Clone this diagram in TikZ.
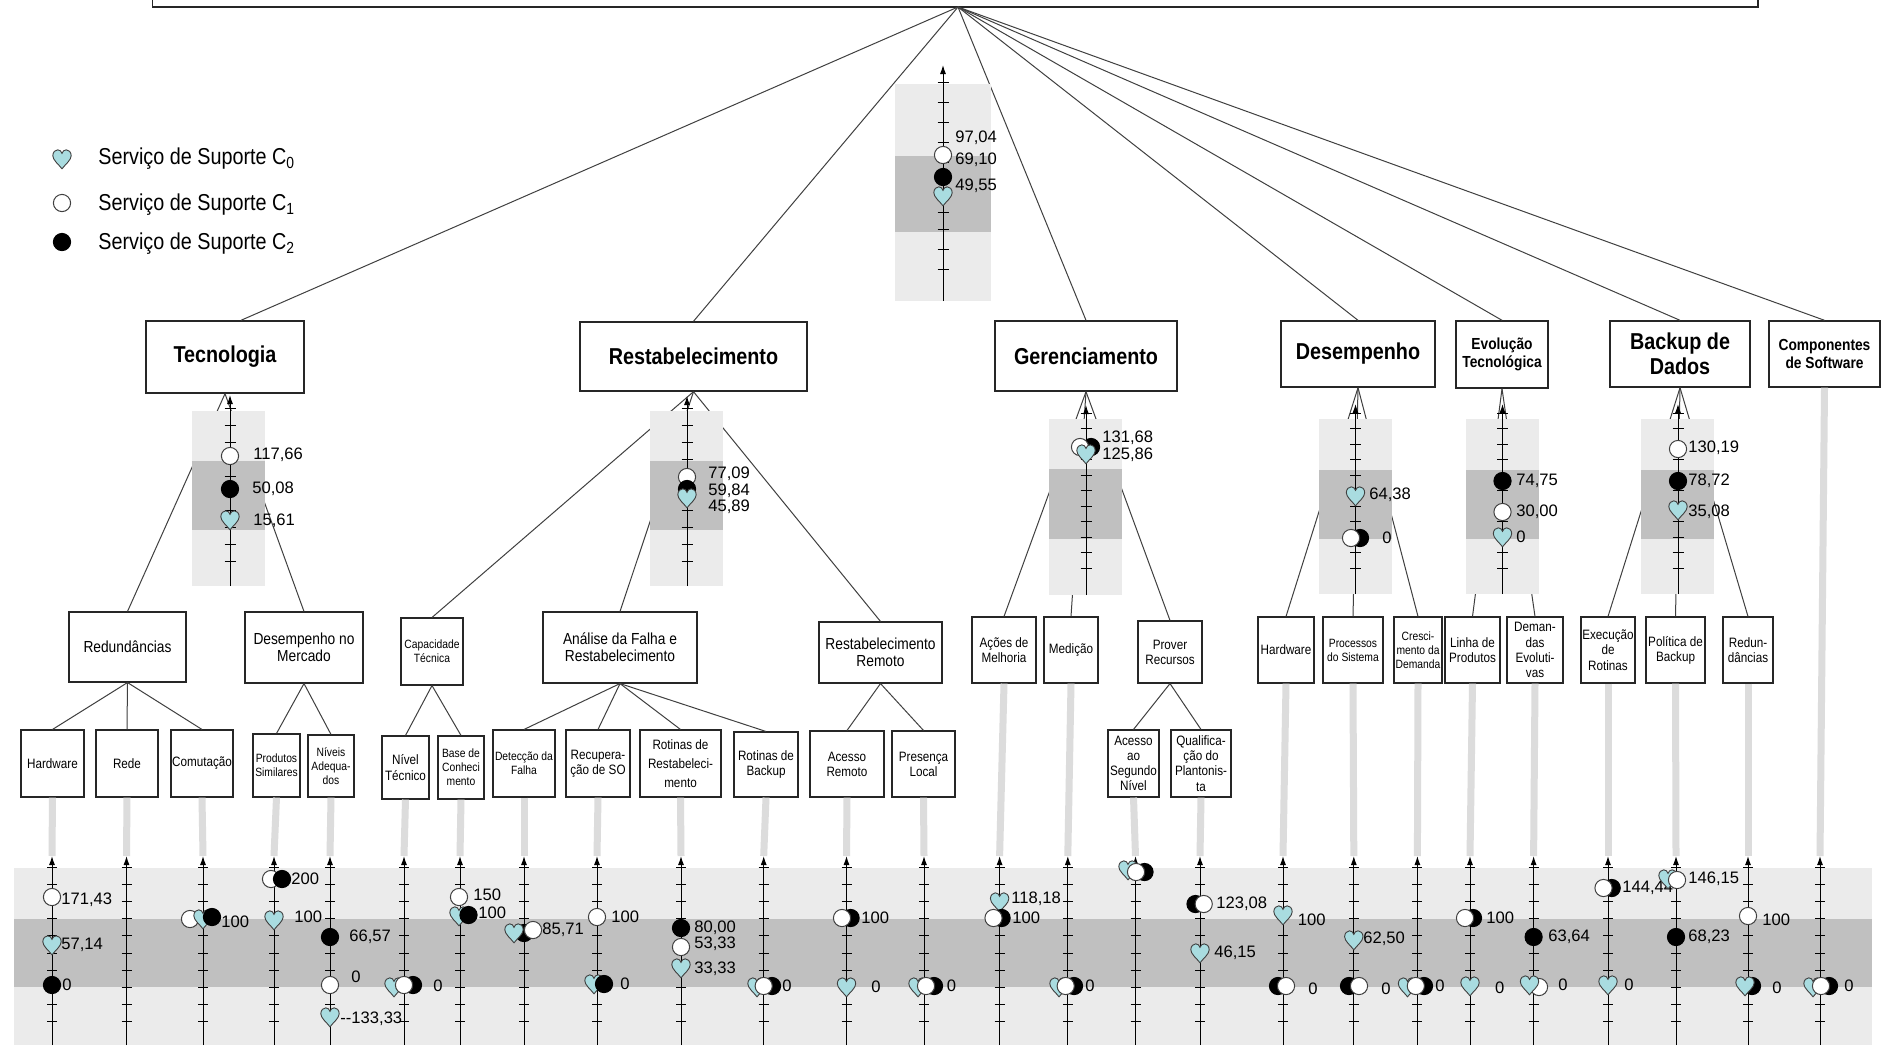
\documentclass[tikz,border=0pt]{standalone}
\usepackage{fontspec}
\setmainfont{Liberation Sans}
\newfontfamily\condf[FakeStretch=0.86]{Liberation Sans}
\usetikzlibrary{arrows.meta}
\definecolor{lgray}{HTML}{EBEBEB}
\definecolor{dgray}{HTML}{C0C0C0}
\definecolor{lgline}{HTML}{DCDCDC}
\definecolor{heartc}{HTML}{A9DCE0}
\definecolor{edgec}{HTML}{404040}
\newcommand\tbox[7]{\node[#6, minimum width={(#4-#2)*0.5pt}, minimum height={(#5-#3)*0.5pt}] (#1) at ({(#2+#4)/2},{(#3+#5)/2}) {#7};}
\newcommand\Hm[2]{\pic at (#1,#2) {heart};}
\newcommand\Wm[2]{\draw[wst] (#1,#2) circle[radius=4.3pt];}
\newcommand\Bm[2]{\draw[bst] (#1,#2) circle[radius=4.3pt];}
\newcounter{lbc}
\newcommand\Lb[3]{\stepcounter{lbc}\node[lab] (lb\arabic{lbc}) at (#1,#2) {#3};}
\newcommand\drawscale[9]{%
  \fill[lgray] (#4,#6) rectangle (#5,#3);
  \fill[dgray] (#4,#7) rectangle (#5,#8);
  \draw[axis] (#1,#3) -- (#1,#2);
  \foreach \t in {#9} \draw[tick] ({#1-5.5},\t) -- ({#1+5.5},\t);
}
\begin{document}
\begin{tikzpicture}[x=0.5pt,y=-0.5pt,
  boxb/.style={draw=black!85, fill=white, line width=0.55pt, inner sep=0.5pt, align=center},
  lvltwo/.style={boxb, line width=0.7pt, font=\condf\bfseries\fontsize{11.5}{12.5}\selectfont},
  lvltwos/.style={boxb, line width=0.7pt, font=\condf\bfseries\fontsize{8}{9}\selectfont},
  lvlthree/.style={boxb, font=\condf\fontsize{8}{8.6}\selectfont},
  leaf/.style={boxb, font=\condf\fontsize{6.8}{7.6}\selectfont},
  leafn/.style={boxb, font=\condf\fontsize{6}{7}\selectfont},
  tree/.style={draw=edgec, line width=0.5pt},
  axis/.style={draw=black, line width=0.5pt, -{Latex[length=4.5pt,width=3pt]}},
  tick/.style={draw=black, line width=0.5pt},
  gline/.style={draw=lgline, line width=3.5pt},
  lab/.style={anchor=west, inner sep=0pt, font=\fontsize{8.3}{9}\selectfont},
  legtxt/.style={anchor=west, inner sep=0pt, font=\condf\fontsize{11.5}{12}\selectfont},
  wst/.style={fill=white, draw=edgec, line width=0.5pt},
  bst/.style={fill=black, draw=black, line width=0.5pt},
  hst/.style={fill=heartc, draw=edgec, line width=0.45pt},
  pics/heart/.style={code={\draw[hst] (0,9.8) .. controls (-3.3,5.4) and (-9.2,1.1) .. (-9.2,-3.3) .. controls (-9.2,-7) and (-6.5,-9.2) .. (-4.3,-9.2) .. controls (-2.2,-9.2) and (-0.5,-7.6) .. (0,-5.6) .. controls (0.5,-7.6) and (2.2,-9.2) .. (4.3,-9.2) .. controls (6.5,-9.2) and (9.2,-7) .. (9.2,-3.3) .. controls (9.2,1.1) and (3.3,5.4) .. (0,9.8) -- cycle;}}
]
\useasboundingbox (0,0) rectangle (1884,1045);
\clip (0,0) rectangle (1884,1045);
\fill[white] (0,0) rectangle (1884,1045);
% bottom band
\fill[lgray] (13.5,868) rectangle (1872,1045);
\fill[dgray] (13.5,919) rectangle (1872,987);
% top box
\node[draw=black!85, line width=0.6pt, minimum width={(1758-152.6)*0.5pt}, minimum height=20pt, inner sep=0pt] (top) at (955.3,-13) {};
\coordinate (root) at (958,7);
% level 2
\tbox{tec}{146}{321}{304}{393}{lvltwo}{Tecnologia}
\tbox{res}{580}{322}{807}{391}{lvltwo}{Restabelecimento}
\tbox{ger}{995}{321}{1177}{391}{lvltwo}{Gerenciamento}
\tbox{des}{1281}{321}{1435}{387}{lvltwo}{Desempenho}
\tbox{evo}{1456}{321}{1548}{388}{lvltwos}{Evolução\\Tecnológica}
\tbox{bak}{1610}{321}{1750}{387}{lvltwo}{Backup de\\Dados}
\tbox{com}{1769}{321}{1880}{387}{lvltwos}{Componentes\\de Software}
% level 3
\tbox{red}{69}{612}{186}{682}{lvlthree}{Redundâncias}
\tbox{dme}{245}{612}{363}{683}{lvlthree}{Desempenho no\\Mercado}
\tbox{cap}{401}{618}{463}{685}{leafn}{Capacidade\\Técnica}
\tbox{ana}{543}{612}{697}{683}{lvlthree}{Análise da Falha e\\Restabelecimento}
\tbox{rre}{819}{622}{942}{683}{lvlthree}{Restabelecimento\\Remoto}
\tbox{aco}{972}{617}{1036}{683}{leaf}{Ações de\\Melhoria}
\tbox{med}{1044}{617}{1098}{683}{leaf}{Medição}
\tbox{pro}{1138}{621}{1202}{683}{leaf}{Prover\\Recursos}
\tbox{hw2}{1258}{617}{1314}{683}{leaf}{Hardware}
\tbox{prc}{1323}{617}{1383}{683}{leafn}{Processos\\do Sistema}
\tbox{cre}{1394}{617}{1442}{683}{leafn}{Cresci-\\mento da\\Demanda}
\tbox{lin}{1445}{617}{1500}{683}{leaf}{Linha de\\Produtos}
\tbox{dem}{1507}{617}{1563}{683}{leaf}{Deman-\\das\\Evoluti-\\vas}
\tbox{exe}{1581}{617}{1635}{683}{leaf}{Execução\\de\\Rotinas}
\tbox{pol}{1646}{617}{1705}{683}{leaf}{Política de\\Backup}
\tbox{re2}{1723}{617}{1773}{683}{leaf}{Redun-\\dâncias}
% level 4
\tbox{hw}{21}{730}{84}{797}{leaf}{Hardware}
\tbox{rede}{96}{730}{158}{797}{leaf}{Rede}
\tbox{comu}{171}{730}{233}{797}{leaf}{Comutação}
\tbox{psim}{253}{734}{300}{797}{leafn}{Produtos\\Similares}
\tbox{niv}{308}{735}{354}{797}{leafn}{Níveis\\Adequa-\\dos}
\tbox{ntec}{382}{736}{429}{799}{leaf}{Nível\\Técnico}
\tbox{base}{438}{736}{484}{799}{leafn}{Base de\\Conheci\\mento}
\tbox{det}{493}{730}{555}{797}{leafn}{Detecção da\\Falha}
\tbox{rec}{566}{730}{630}{797}{leaf}{Recupera-\\ção de SO}
\tbox{rrt}{640}{730}{721}{797}{leaf, font=\condf\fontsize{6.8}{9.5}\selectfont}{Rotinas de\\Restabeleci-\\mento}
\tbox{rbk}{734}{732}{798}{797}{leaf}{Rotinas de\\Backup}
\tbox{arm}{810}{731}{884}{797}{leaf}{Acesso\\Remoto}
\tbox{plo}{892}{731}{955}{797}{leaf}{Presença\\Local}
\tbox{aseg}{1108}{730}{1159}{797}{leaf}{Acesso\\ao\\Segundo\\Nível}
\tbox{qual}{1171}{730}{1231}{797}{leaf}{Qualifica-\\ção do\\Plantonis-\\ta}
% tree lines
\draw[tree] (root) -- ([xshift=8pt]tec.north);
\foreach \n in {res,ger,des,evo,bak,com} \draw[tree] (root) -- (\n.north);
\foreach \n in {red,dme} \draw[tree] (tec.south) -- (\n.north);
\foreach \n in {cap,ana,rre} \draw[tree] (res.south) -- (\n.north);
\foreach \n in {aco,med,pro} \draw[tree] (ger.south) -- (\n.north);
\foreach \n in {hw2,prc,cre} \draw[tree] (des.south) -- (\n.north);
\foreach \n in {lin,dem} \draw[tree] (evo.south) -- (\n.north);
\foreach \n in {exe,pol,re2} \draw[tree] (bak.south) -- (\n.north);
\foreach \n in {hw,rede,comu} \draw[tree] (red.south) -- (\n.north);
\foreach \n in {psim,niv} \draw[tree] (dme.south) -- (\n.north);
\foreach \n in {ntec,base} \draw[tree] (cap.south) -- (\n.north);
\foreach \n in {det,rec,rrt,rbk} \draw[tree] (ana.south) -- (\n.north);
\foreach \n in {arm,plo} \draw[tree] (rre.south) -- (\n.north);
\foreach \n in {aseg,qual} \draw[tree] (pro.south) -- (\n.north);
% scales
\drawscale{943}{65}{301}{895}{991}{84}{156}{232}{82,102,122,142,162,182,212,229,249,269}
\drawscale{230}{395}{586}{192}{265}{411}{461}{530}{408,425,...,561}
\drawscale{687}{396}{586}{650}{723}{411}{461}{530}{408,425,...,561}
\drawscale{1086}{405}{595}{1049}{1122}{419}{469}{539}{413,428.5,...,569}
\drawscale{1355.5}{404}{594}{1319}{1392}{419}{470}{539}{413,428.5,...,569}
\drawscale{1502.5}{404}{594}{1466}{1538.5}{419}{470}{539}{413,428.5,...,569}
\drawscale{1678}{404}{594}{1640.6}{1714}{419}{470}{539}{413,428.5,...,569}
% bottom axes
\foreach \nm/\xx in {a1/52,a2/126.5,a3/203,a4/274,a5/330,a6/404,a7/460,a8/524,a9/597,a10/681,a11/763.7,a12/846.5,a13/924,a14/999.6,a15/1067.8,a16/1135.5,a17/1200,a18/1283,a19/1353.8,a20/1417.4,a21/1470,a22/1533.6,a23/1608,a24/1676,a25/1748,a26/1820}{
  \coordinate (\nm) at (\xx,856);
  \draw[axis] (\xx,1045) -- (\nm);
  \foreach \k in {0,...,9} \draw[tick] ({\xx-5},{867+17.2*\k}) -- ({\xx+5},{867+17.2*\k});
}
\foreach \lf/\ax in {hw/a1,rede/a2,comu/a3,psim/a4,niv/a5,ntec/a6,base/a7,det/a8,rec/a9,rrt/a10,rbk/a11,arm/a12,plo/a13,aco/a14,med/a15,aseg/a16,qual/a17,hw2/a18,prc/a19,cre/a20,lin/a21,dem/a22,exe/a23,pol/a24,re2/a25,com/a26}
  \draw[gline] (\lf.south) -- (\ax);
% level-2 markers
\Wm{943}{155}\Bm{943}{177}\Hm{943}{196}
\Lb{955}{138}{97,04}\Lb{955}{160}{69,10}\Lb{955}{186}{49,55}
\Wm{230}{456}\Bm{230}{489}\Hm{230}{520}
\Lb{253}{455}{117,66}\Lb{252}{489}{50,08}\Lb{253}{521}{15,61}
\Wm{687}{477}\Bm{687}{489}\Hm{687}{498}
\Lb{708}{474}{77,09}\Lb{708}{491}{59,84}\Lb{708}{507}{45,89}
\Bm{1091}{447}\Wm{1080}{447}\Hm{1086}{454}
\Lb{1102}{438}{131,68}\Lb{1102}{455}{125,86}
\Hm{1355.5}{496}\Lb{1369}{495}{64,38}\Bm{1360}{538}\Wm{1351}{538}\Lb{1382}{538}{0}
\Bm{1502.5}{481}\Lb{1516}{481}{74,75}\Wm{1502.5}{512}\Lb{1516}{512}{30,00}\Hm{1502.5}{537}\Lb{1516}{537}{0}
\Wm{1678}{449}\Lb{1688}{448}{130,19}\Bm{1678}{481}\Lb{1688}{481}{78,72}\Hm{1678}{510}\Lb{1688}{512}{35,08}
% bottom markers
\Wm{52}{897}\Hm{52}{945}\Bm{52}{985}
\Lb{61}{900}{171,43}\Lb{61}{945}{57,14}\Lb{62}{985}{0}
\Wm{190}{919}\Hm{203}{919}\Bm{212}{917}\Lb{221}{922}{100}
\Wm{271}{879}\Bm{282}{879}\Lb{291}{879}{200}\Hm{274}{920}\Lb{294}{917}{100}
\Bm{330}{937}\Lb{349}{937}{66,57}\Wm{330}{985}\Lb{351}{977}{0}\Hm{330}{1017}\Lb{340}{1019}{-{}-133,33}
\Hm{394}{987}\Bm{413}{985}\Wm{404}{985}\Lb{433}{986}{0}
\Wm{459}{897}\Lb{473}{895}{150}\Hm{459}{916}\Bm{468.5}{915}\Lb{478}{913}{100}
\Bm{524}{933}\Hm{514}{933}\Wm{533}{930}\Lb{542}{930}{85,71}
\Wm{597}{917}\Lb{611}{917}{100}\Hm{594}{984}\Bm{604}{984}\Lb{620}{984}{0}
\Bm{681}{928}\Lb{694}{928}{80,00}\Wm{681}{947}\Lb{694}{944}{53,33}\Hm{681}{968}\Lb{694}{969}{33,33}
\Hm{757}{987}\Bm{772}{986}\Wm{763.7}{986}\Lb{782}{986}{0}
\Bm{850.6}{918}\Wm{842}{918}\Lb{861}{918}{100}\Hm{846.5}{987}\Lb{871}{987}{0}
\Hm{918}{987}\Bm{934}{986}\Wm{926}{986}\Lb{946.5}{986}{0}
\Hm{999.6}{902}\Lb{1011}{899}{118,18}\Bm{1001.6}{918}\Wm{993.5}{918}\Lb{1012}{918}{100}
\Hm{1059}{987}\Bm{1074}{986}\Wm{1065.7}{986}\Lb{1085}{986}{0}
\Hm{1128}{870}\Bm{1144.5}{872}\Wm{1136}{872}
\Bm{1195.5}{904}\Wm{1203.7}{904}\Lb{1216}{904}{123,08}\Hm{1200}{953}\Lb{1214}{953}{46,15}
\Hm{1283}{915}\Lb{1297.5}{920}{100}\Bm{1278}{986}\Wm{1286}{986}\Lb{1308}{989}{0}
\Hm{1353.8}{940}\Lb{1363}{939}{62,50}\Bm{1349}{986}\Wm{1359}{986}\Lb{1381}{989}{0}
\Hm{1407.5}{987}\Bm{1424}{986}\Wm{1415.8}{986}\Lb{1435}{986}{0}
\Bm{1473}{918}\Wm{1465}{918}\Lb{1486}{918}{100}\Hm{1470}{986}\Lb{1494.6}{988}{0}
\Bm{1533.6}{937}\Lb{1548}{937}{63,64}\Wm{1539}{987}\Hm{1529.5}{985}\Lb{1558}{985}{0}
\Bm{1611.7}{888}\Wm{1603.5}{888}\Lb{1622}{888}{144,44}\Hm{1608}{985}\Lb{1624}{985}{0}
\Hm{1668}{879}\Wm{1677}{880}\Lb{1688}{879}{146,15}\Bm{1676}{937}\Lb{1688}{937}{68,23}
\Wm{1748}{916}\Lb{1762}{920}{100}\Bm{1752}{986}\Hm{1745}{986}\Lb{1772}{988}{0}
\Hm{1813}{987}\Bm{1829}{986}\Wm{1821}{986}\Lb{1844}{986}{0}
% legend
\Hm{62}{159}\Wm{62}{203}\Bm{62}{242}
\node[legtxt] (lg0) at (98,159) {Serviço de Suporte C\textsubscript{0}};
\node[legtxt] (lg1) at (98,205) {Serviço de Suporte C\textsubscript{1}};
\node[legtxt] (lg2) at (98,244) {Serviço de Suporte C\textsubscript{2}};
\end{tikzpicture}
\end{document}
